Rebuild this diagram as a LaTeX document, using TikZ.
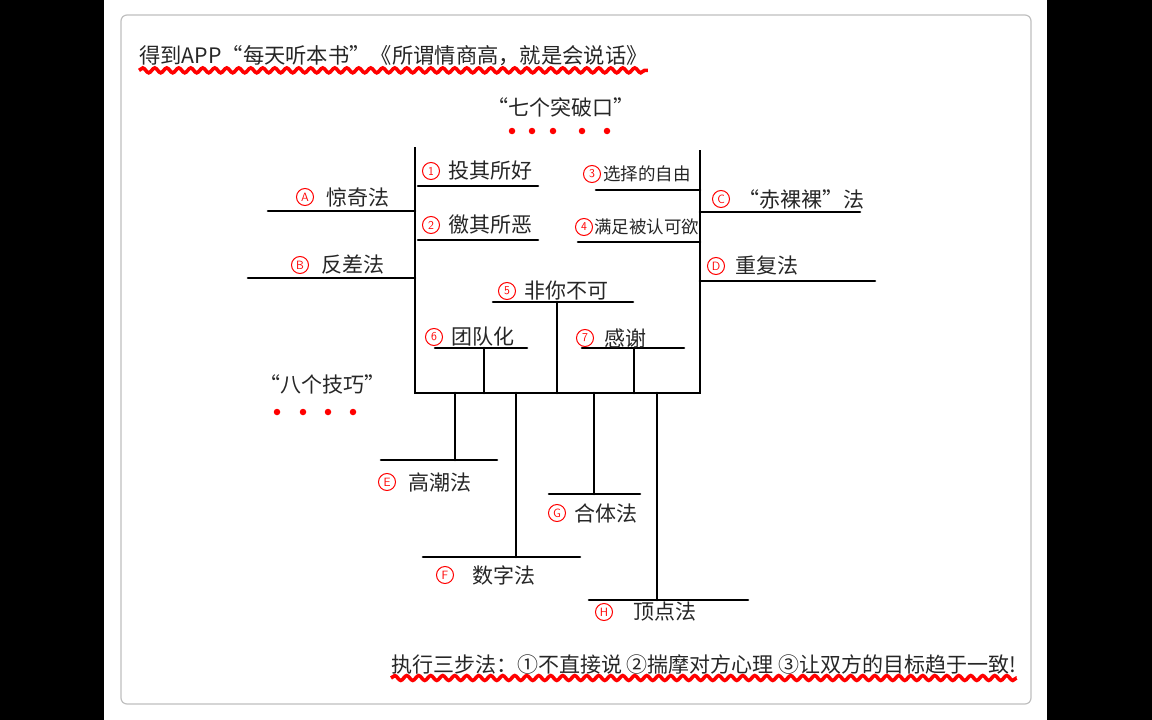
\documentclass[tikz,border=0pt]{standalone}
\usepackage{fontspec}
\newfontfamily\cjk{Noto Sans CJK SC}
\usetikzlibrary{positioning,decorations.pathmorphing}

\tikzset{
  bar/.style={line width=2.6pt, line cap=round},
  lab/.style={font=\cjk\fontsize{21}{23}\selectfont, text=black!85, inner sep=0pt},
  labsmall/.style={lab, font=\cjk\fontsize{17.5}{19}\selectfont},
  num/.style={circle, draw=red, text=red, line width=1pt, inner sep=0pt,
    minimum size=17pt, font=\sffamily\fontsize{12}{12}\selectfont},
  wave/.style={red, line width=3.6pt, decorate,
    decoration={snake, amplitude=2.4pt, segment length=12pt}},
  reddot/.style={circle, fill=red, inner sep=0pt, minimum size=6.5pt},
}

\begin{document}
\begin{tikzpicture}[x=1pt,y=-1pt]
  \useasboundingbox (0,0) rectangle (1152,720);

  % frame of the video still
  \fill[black] (0,0) rectangle (104,720);
  \fill[black] (1047,0) rectangle (1152,720);
  \draw[black!25, line width=1.2pt, rounded corners=6pt] (121,15) rectangle (1031,704);

  % title
  \node[lab, anchor=west, font=\cjk\fontsize{21.3}{24}\selectfont] (title) at (139,56)
    {得到APP“每天听本书”《所谓情商高，就是会说话》};
  \draw[wave] ([yshift=-4pt]title.south west) -- ([yshift=-4pt]title.south east);

  \node[lab, font=\cjk\fontsize{21}{24}\selectfont] (seven) at (561,107) {“七个突破口”};
  \foreach \xx [count=\i] in {512,532,553,582,607}
    \node[reddot] (sd\i) at (\xx,131) {};

  \node[lab, font=\cjk\fontsize{21}{24}\selectfont] (eight) at (322,384) {“八个技巧”};
  \foreach \xx [count=\i] in {277,303,328,353}
    \node[reddot] (ed\i) at (\xx,412) {};

  % trunk
  \coordinate (tl) at (415,147);
  \coordinate (bl) at (415,393);
  \coordinate (br) at (700,393);
  \coordinate (tr) at (700,150);
  \draw[bar, line cap=butt] (tl) -- (bl) -- (br) -- (tr);

  % bars
  \foreach \n/\xa/\xb/\yy in {b1/418/538/186, b2/418/538/240, bA/268/415/211,
      bB/248/415/278, b3/596/700/190, b4/578/700/242, bC/700/860/212,
      bD/700/875/281, b5/493/633/302, b6/435/527/348, b7/582/684/348,
      bE/381/497/460, bF/423/580/557, bG/549/640/494, bH/589/748/600}
  {
    \coordinate (\n-l) at (\xa,\yy);
    \coordinate (\n-r) at (\xb,\yy);
    \draw[bar] (\n-l) -- (\n-r);
  }

  % stems to the bottom bar
  \foreach \n/\xx in {b5/557, b6/484, b7/634, bE/455, bF/516, bG/594, bH/657}
  {
    \coordinate (\n-s) at (\xx,0);
    \draw[bar] (\n-s |- \n-l) -- (\n-s |- bl);
  }

  % seven breakthroughs
  \node[num] (n1) at (431,171) {1};
  \node[lab, right=8pt of n1] (t1) {投其所好};
  \node[num] (n2) at (431,225) {2};
  \node[lab, right=8pt of n2] (t2) {徼其所恶};
  \node[num] (n3) at (592,174) {3};
  \node[labsmall, right=2pt of n3] (t3) {选择的自由};
  \node[num] (n4) at (584,227) {4};
  \node[labsmall, right=1pt of n4] (t4) {满足被认可欲};
  \node[num] (n5) at (507,291) {5};
  \node[lab, right=8pt of n5] (t5) {非你不可};
  \node[num] (n6) at (434,337) {6};
  \node[lab, right=8pt of n6] (t6) {团队化};
  \node[num] (n7) at (585,338) {7};
  \node[lab, right=10pt of n7] (t7) {感谢};

  % eight techniques
  \node[num] (nA) at (305,197) {A};
  \node[lab, right=12pt of nA] (tA) {惊奇法};
  \node[num] (nB) at (300,265) {B};
  \node[lab, right=12pt of nB] (tB) {反差法};
  \node[num] (nC) at (721,199) {C};
  \node[lab, right=8pt of nC] (tC) {“赤裸裸”法};
  \node[num] (nD) at (716,266) {D};
  \node[lab, right=10pt of nD] (tD) {重复法};
  \node[num] (nE) at (387,482) {E};
  \node[lab, right=12pt of nE] (tE) {高潮法};
  \node[num] (nF) at (445,575) {F};
  \node[lab, right=18pt of nF] (tF) {数字法};
  \node[num] (nG) at (557,513) {G};
  \node[lab, right=8pt of nG] (tG) {合体法};
  \node[num] (nH) at (604,612) {H};
  \node[lab, right=20pt of nH] (tH) {顶点法};

  % three steps
  \node[lab, anchor=west, font=\cjk\fontsize{21}{23}\selectfont] (steps) at (391,664)
    {执行三步法：①不直接说 ②揣摩对方心理 ③让双方的目标趋于一致!};
  \draw[wave] ([yshift=-4pt]steps.south west) -- ([yshift=-4pt]steps.south east);
\end{tikzpicture}
\end{document}
